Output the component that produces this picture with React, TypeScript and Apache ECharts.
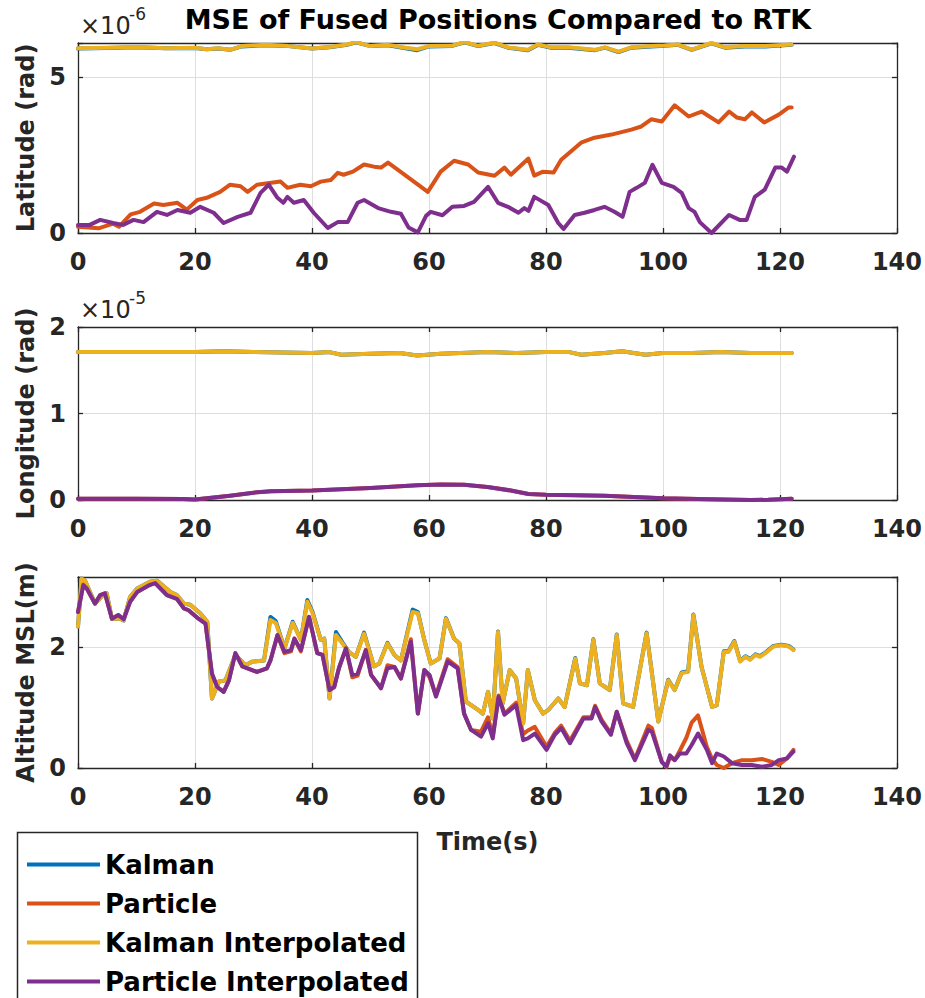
import React, { useEffect, useRef } from "react";
import * as echarts from "echarts";

const TITLE = "MSE of Fused Positions Compared to RTK";
const SERIES_NAMES = ["Kalman", "Particle", "Kalman Interpolated", "Particle Interpolated"];
const SERIES_COLORS = ["#0072BD", "#D95319", "#EDB120", "#7E2F8E"];
const Y_LABELS = ["Latitude (rad)", "Longitude (rad)", "Altitude MSL(m)"];
const X_LABEL = "Time(s)";
const EXPONENTS = ["-6", "-5", ""];
const X_TICKS = [0, 20, 40, 60, 80, 100, 120, 140];
const Y_MAX = [6.1, 2, 3.16];
const Y_INTERVAL = [5, 1, 2];

// ---- Latitude (x1e-6 rad) ----
const latKalmanInterp: number[][] = [
  [0, 5.93], [5, 5.95], [10, 5.97], [15, 5.93], [20, 5.95], [22, 5.9], [24, 5.93], [26, 5.88], [28, 6.0],
  [32, 6.04], [36, 6.0], [40, 5.92], [43, 5.97], [46, 6.05], [47.5, 6.13], [50, 6.0], [53, 6.04], [56, 5.95],
  [58, 5.9], [60, 6.0], [63.8, 6.01], [66.1, 6.13], [68.4, 6.01], [71.2, 6.11], [73.5, 5.96], [76.9, 5.88],
  [78.6, 6.05], [80.9, 5.96], [83.8, 5.96], [88.4, 5.88], [90.1, 5.96], [92.4, 5.82], [94.6, 5.96], [98, 6.0],
  [100.3, 6.02], [102.6, 6.05], [104.9, 5.89], [108.3, 6.1], [110.6, 5.96], [114, 6.0], [117.5, 6.0], [122, 6.05],
];
const latKalman: number[][] = [
  [0, 5.92], [5, 5.94], [10, 5.96], [15, 5.93], [20, 5.94], [22, 5.9], [24, 5.92], [26, 5.88], [28, 5.99],
  [32, 6.03], [36, 6.0], [40, 5.92], [43, 5.96], [46, 6.04], [47.5, 6.12], [50, 6.0], [53, 6.03], [56, 5.93],
  [58, 5.87], [60, 5.99], [63.8, 6.0], [66.1, 6.12], [68.4, 6.0], [71.2, 6.1], [73.5, 5.95], [76.9, 5.87],
  [78.6, 6.04], [80.9, 5.95], [83.8, 5.95], [88.4, 5.87], [90.1, 5.95], [92.4, 5.81], [94.6, 5.95], [98, 5.99],
  [100.3, 6.01], [102.6, 6.04], [104.9, 5.88], [108.3, 6.09], [110.6, 5.95], [114, 5.99], [117.5, 5.99], [122, 6.04],
];
const latParticle: number[][] = [
  [0, 0.2], [3.5, 0.15], [6, 0.3], [7, 0.2], [9, 0.6], [10.6, 0.68], [13, 0.95], [14.6, 0.9], [17, 0.97],
  [18.6, 0.75], [20.4, 1.06], [22, 1.13], [24.3, 1.32], [26, 1.55], [27.8, 1.5], [29, 1.32], [30.6, 1.55],
  [32.4, 1.6], [34.6, 1.65], [35.8, 1.45], [38, 1.55], [39.8, 1.5], [41.5, 1.65], [43.2, 1.7], [44.4, 1.93],
  [45.4, 1.87], [47, 1.97], [48.9, 2.2], [50.6, 2.13], [51.8, 2.1], [53, 2.26], [54.7, 2.03], [59.8, 1.32],
  [62, 1.97], [64.3, 2.32], [66.7, 2.2], [68.4, 1.94], [71.2, 1.84], [72.9, 2.1], [74, 1.87], [77, 2.39],
  [78, 1.84], [79.5, 1.97], [81.3, 1.94], [82.6, 2.35], [86, 2.9], [88.3, 3.06], [91.2, 3.16], [94.6, 3.32],
  [96.3, 3.42], [98, 3.65], [99.8, 3.58], [102, 4.1], [104.4, 3.74], [106.6, 3.9], [109.5, 3.55], [111.3, 3.9],
  [112.6, 3.71], [114, 3.65], [115.2, 3.87], [117.3, 3.55], [119.8, 3.8], [121.5, 4.03], [122, 4.03],
];
const latParticleInterp: number[][] = [
  [0, 0.26], [2, 0.26], [3.8, 0.42], [6, 0.32], [7.7, 0.26], [9.5, 0.42], [11.2, 0.35], [13.5, 0.68],
  [15.2, 0.58], [17, 0.74], [19.2, 0.65], [20.9, 0.84], [23.2, 0.65], [24.9, 0.32], [27.3, 0.52], [29.5, 0.65],
  [31.2, 1.29], [32.6, 1.55], [34.1, 1.13], [35.1, 0.97], [35.8, 1.16], [36.9, 0.97], [38.6, 1.06], [40.3, 0.65],
  [42.7, 0.16], [44.4, 0.35], [46.1, 0.35], [47.8, 0.97], [48.9, 1.06], [51.3, 0.8], [53.5, 0.68], [55.2, 0.62],
  [56.5, 0.18], [58.1, 0.02], [59.5, 0.55], [60.3, 0.68], [62.3, 0.57], [64, 0.84], [66, 0.87], [67.7, 1.0],
  [70.1, 1.48], [71.8, 0.97], [73.5, 0.84], [75.3, 0.65], [76.3, 0.8], [77, 0.71], [78, 1.16], [80.4, 0.9],
  [82.1, 0.32], [83, 0.13], [84.9, 0.58], [86.6, 0.65], [88.3, 0.74], [90, 0.84], [91.7, 0.68], [93.1, 0.52],
  [94.3, 1.32], [95.5, 1.45], [96.9, 1.61], [98.2, 2.19], [99.8, 1.61], [101.8, 1.48], [103.2, 1.29],
  [104.4, 0.8], [105.4, 0.68], [106.3, 0.35], [108.3, 0.0], [111.3, 0.58], [113.1, 0.42], [114.3, 0.42],
  [115.7, 1.16], [117.4, 1.39], [119.2, 2.1], [120.3, 2.1], [121.2, 1.97], [122.4, 2.45],
];

// ---- Longitude (x1e-5 rad) ----
const lonKalmanInterp: number[][] = [
  [0, 1.71], [10, 1.71], [20, 1.71], [25, 1.72], [30, 1.71], [40, 1.7], [43, 1.71], [45, 1.68], [50, 1.69],
  [55, 1.7], [58, 1.67], [62, 1.69], [70, 1.71], [75, 1.7], [80, 1.71], [84, 1.71], [86, 1.68], [90, 1.7],
  [93, 1.72], [97, 1.68], [100, 1.7], [105, 1.7], [110, 1.71], [115, 1.7], [122, 1.7],
];
const lonKalman: number[][] = [
  [0, 1.71], [10, 1.71], [20, 1.71], [25, 1.72], [30, 1.71], [40, 1.7], [43, 1.71], [45, 1.68], [50, 1.69],
  [55, 1.7], [58, 1.67], [62, 1.69], [70, 1.71], [75, 1.7], [80, 1.71], [84, 1.71], [86, 1.68], [90, 1.7],
  [93, 1.72], [97, 1.68], [100, 1.7], [105, 1.7], [110, 1.71], [115, 1.7], [122, 1.7],
];
const lonParticleInterp: number[][] = [
  [0, 0.015], [10, 0.015], [18, 0.012], [20, 0.005], [22, 0.02], [26, 0.05], [30, 0.085], [33, 0.1],
  [40, 0.11], [50, 0.14], [58, 0.17], [62, 0.18], [66, 0.175], [70, 0.15], [74, 0.11], [77, 0.07], [80, 0.06],
  [90, 0.05], [100, 0.02], [108, 0.01], [115, 0.0], [118, 0.002], [122, 0.015],
];
const lonParticle: number[][] = [
  [0, 0.015], [10, 0.015], [18, 0.012], [20, 0.005], [22, 0.02], [26, 0.05], [30, 0.085], [33, 0.1],
  [40, 0.11], [50, 0.14], [58, 0.17], [62, 0.18], [66, 0.175], [70, 0.15], [74, 0.11], [77, 0.07], [80, 0.06],
  [90, 0.05], [100, 0.02], [108, 0.01], [115, 0.0], [118, 0.002], [122, 0.015],
];

// ---- Altitude MSL (m) ----
const altKalmanInterp: number[][] = [
  [0, 2.34], [0.6, 3.13], [1.2, 3.1], [2.9, 2.72], [4.3, 2.86], [4.9, 2.89], [5.8, 2.47], [7.2, 2.47],
  [7.8, 2.44], [8.9, 2.83], [10.1, 2.97], [12.3, 3.08], [13.5, 3.1], [15.8, 2.91], [16.9, 2.86], [18.1, 2.72],
  [19.2, 2.7], [20.9, 2.56], [22.1, 2.42], [22.9, 1.15], [24.1, 1.43], [25.2, 1.45], [26.9, 1.87], [28.6, 1.7],
  [29.8, 1.76], [31.8, 1.78], [32.9, 2.45], [33.8, 2.4], [35.3, 1.98], [36.7, 2.4], [38.1, 2.12], [39.2, 2.75],
  [40.1, 2.56], [41.5, 2.12], [42.1, 2.14], [43, 1.15], [44.1, 2.2], [45.2, 2.06], [46.3, 1.92], [47.5, 1.84],
  [48.9, 2.22], [50.6, 1.68], [51.5, 1.73], [52.9, 2.06], [54.1, 1.87], [55.2, 1.78], [57.2, 2.58], [58.1, 2.56],
  [59.2, 2.12], [60.3, 1.73], [61.8, 1.81], [62.9, 2.47], [64.3, 2.14], [65.2, 2.06], [66.3, 1.1], [68.4, 0.96],
  [69.2, 0.9], [70.1, 1.26], [70.9, 0.82], [71.8, 2.25], [72.6, 1.07], [73.8, 1.62], [74.9, 1.48], [76.1, 0.74],
  [76.9, 1.62], [78.1, 1.12], [79.5, 0.9], [80.4, 0.96], [82.1, 1.15], [83.2, 1.01], [85, 1.81], [85.8, 1.4],
  [87, 1.37], [88.1, 2.12], [89.2, 1.4], [90.9, 1.29], [92.1, 2.2], [93.2, 1.07], [94.9, 1.01], [97.2, 2.23],
  [99.2, 0.77], [100.9, 1.45], [102, 1.29], [103.2, 1.57], [104.3, 1.59], [105.2, 2.53], [106.6, 1.67],
  [108.4, 1.01], [109.2, 1.04], [110.4, 1.92], [111.2, 1.92], [112.2, 2.09], [113.2, 1.76], [114.1, 1.84],
  [114.9, 1.79], [115.8, 1.87], [116.6, 1.84], [117.5, 1.9], [118.9, 2.01], [120.3, 2.03], [121.5, 2.01],
  [122.3, 1.95],
];
const altKalman: number[][] = [
  [0, 2.34], [0.6, 3.13], [1.2, 3.1], [2.9, 2.72], [4.3, 2.86], [4.9, 2.89], [5.8, 2.47], [7.2, 2.47],
  [7.8, 2.44], [8.9, 2.83], [10.1, 2.97], [12.3, 3.08], [13.5, 3.1], [15.8, 2.91], [16.9, 2.86], [18.1, 2.72],
  [19.2, 2.7], [20.9, 2.56], [22.1, 2.42], [22.9, 1.15], [24.1, 1.43], [25.2, 1.45], [26.9, 1.87], [28.6, 1.7],
  [29.8, 1.76], [31.8, 1.78], [32.9, 2.5], [33.8, 2.43], [35.3, 1.98], [36.7, 2.42], [38.1, 2.12], [39.2, 2.78],
  [40.1, 2.58], [41.5, 2.12], [42.1, 2.14], [43, 1.15], [44.1, 2.25], [45.2, 2.08], [46.3, 1.92], [47.5, 1.84],
  [48.9, 2.24], [50.6, 1.68], [51.5, 1.73], [52.9, 2.07], [54.1, 1.87], [55.2, 1.78], [57.2, 2.62], [58.1, 2.58],
  [59.2, 2.12], [60.3, 1.73], [61.8, 1.81], [62.9, 2.48], [64.3, 2.14], [65.2, 2.06], [66.3, 1.1], [68.4, 0.96],
  [69.2, 0.9], [70.1, 1.26], [70.9, 0.82], [71.8, 2.26], [72.6, 1.07], [73.8, 1.62], [74.9, 1.48], [76.1, 0.74],
  [76.9, 1.62], [78.1, 1.12], [79.5, 0.9], [80.4, 0.96], [82.1, 1.15], [83.2, 1.01], [85, 1.82], [85.8, 1.4],
  [87, 1.37], [88.1, 2.13], [89.2, 1.4], [90.9, 1.29], [92.1, 2.21], [93.2, 1.07], [94.9, 1.01], [97.2, 2.24],
  [99.2, 0.77], [100.9, 1.46], [102, 1.29], [103.2, 1.58], [104.3, 1.6], [105.2, 2.54], [106.6, 1.67],
  [108.4, 1.01], [109.2, 1.04], [110.4, 1.93], [111.2, 1.93], [112.2, 2.1], [113.2, 1.77], [114.1, 1.85],
  [114.9, 1.8], [115.8, 1.88], [116.6, 1.85], [117.5, 1.91], [118.9, 2.02], [120.3, 2.04], [121.5, 2.02],
  [122.3, 1.96],
];
const altParticleInterp: number[][] = [
  [0, 2.58], [0.9, 3.03], [1.5, 2.97], [2.9, 2.72], [3.8, 2.86], [4.6, 2.89], [5.8, 2.47], [6.9, 2.53],
  [7.8, 2.46], [8.9, 2.75], [10.1, 2.91], [12.3, 3.03], [13.2, 3.06], [15.2, 2.86], [16.9, 2.8], [18.1, 2.64],
  [18.9, 2.61], [20.6, 2.47], [21.8, 2.39], [22.9, 1.56], [23.8, 1.34], [24.9, 1.26], [25.8, 1.45], [26.9, 1.9],
  [28.1, 1.68], [30.6, 1.59], [32.3, 1.65], [32.9, 1.78], [34.1, 2.2], [35.3, 1.92], [36.4, 1.95], [37, 2.14],
  [38.1, 1.95], [39.5, 2.5], [40.9, 1.9], [41.8, 1.87], [43, 1.29], [43.8, 1.34], [44.6, 1.65], [45.8, 1.98],
  [46.9, 1.54], [47.8, 1.56], [49.2, 1.95], [50.1, 1.54], [51.8, 1.32], [52.9, 1.65], [54.1, 1.67], [55.2, 1.48],
  [56.9, 2.09], [58.1, 0.9], [59.2, 1.62], [60.1, 1.54], [61.2, 1.18], [63.2, 1.76], [64.9, 1.65], [66, 0.9],
  [67.2, 0.63], [68.9, 0.52], [70.1, 0.74], [70.9, 0.49], [71.9, 1.18], [72.9, 0.88], [74.9, 1.04], [76.1, 0.46],
  [76.9, 0.49], [78.1, 0.57], [80.1, 0.3], [81.5, 0.55], [82.6, 0.66], [84.1, 0.41], [86.4, 0.82], [87.8, 0.82],
  [88.4, 1.01], [89.5, 0.77], [91.1, 0.55], [92.1, 0.93], [93.8, 0.41], [95.2, 0.13], [97.5, 0.63], [98.1, 0.6],
  [99.8, 0.1], [100.6, 0.03], [101.2, 0.21], [102, 0.13], [102.9, 0.24], [104, 0.24], [104.9, 0.38], [106, 0.57],
  [107.5, 0.3], [108.4, 0.08], [109.2, 0.24], [110.4, 0.19], [111.8, 0.08], [113.5, 0.05], [115.2, 0.05],
  [116.9, 0.02], [118.6, 0.05], [119.8, 0.13], [121.2, 0.16], [122.3, 0.27],
];
const altParticle: number[][] = [
  [0, 2.58], [0.9, 3.03], [1.5, 2.97], [2.9, 2.72], [3.8, 2.86], [4.6, 2.89], [5.8, 2.47], [6.9, 2.53],
  [7.8, 2.46], [8.9, 2.75], [10.1, 2.91], [12.3, 3.03], [13.2, 3.06], [15.2, 2.86], [16.9, 2.8], [18.1, 2.64],
  [18.9, 2.61], [20.6, 2.47], [21.8, 2.39], [22.9, 1.56], [23.8, 1.34], [24.9, 1.26], [25.8, 1.45], [26.9, 1.9],
  [28.1, 1.68], [30.6, 1.59], [32.3, 1.65], [32.9, 1.78], [34.1, 2.2], [35.3, 1.9], [36.4, 1.93], [37, 2.14],
  [38.1, 1.93], [39.5, 2.5], [40.9, 1.9], [41.8, 1.87], [43, 1.29], [43.8, 1.34], [44.6, 1.65], [45.8, 1.98],
  [46.9, 1.5], [47.8, 1.53], [49.2, 1.95], [50.1, 1.54], [51.8, 1.32], [52.9, 1.7], [54.1, 1.67], [55.2, 1.48],
  [56.9, 2.13], [58.1, 0.9], [59.2, 1.62], [60.1, 1.5], [61.2, 1.2], [63.2, 1.8], [64.9, 1.67], [66, 0.9],
  [67.2, 0.63], [68.9, 0.6], [70.1, 0.84], [70.9, 0.52], [71.9, 1.2], [72.9, 0.9], [74.9, 1.08], [76.1, 0.56],
  [76.9, 0.62], [78.1, 0.68], [80.1, 0.35], [81.5, 0.58], [82.6, 0.7], [84.1, 0.45], [86.4, 0.84], [87.8, 0.84],
  [88.4, 1.03], [89.5, 0.8], [91.1, 0.57], [92.1, 0.93], [93.8, 0.45], [95.2, 0.15], [97.5, 0.7], [98.1, 0.66],
  [99.8, 0.1], [100.6, 0.02], [101.2, 0.18], [102, 0.13], [102.9, 0.29], [104, 0.5], [104.9, 0.75], [106, 0.87],
  [107.5, 0.35], [108.4, 0.15], [109.2, 0.05], [110.4, 0.0], [111.8, 0.08], [113.5, 0.13], [115.2, 0.13],
  [116.9, 0.15], [118.6, 0.1], [119.8, 0.05], [121.2, 0.16], [122.3, 0.3],
];

const PANEL_DATA = [
  [latKalman, latParticle, latKalmanInterp, latParticleInterp],
  [lonKalman, lonParticle, lonKalmanInterp, lonParticleInterp],
  [altKalman, altParticle, altKalmanInterp, altParticleInterp],
];

const FONT = "'DejaVu Sans', 'Liberation Sans', sans-serif";
const AXIS_COLOR = "#262626";
const GRID_COLOR = "#dedede";
const LEFT = 78;
const WIDTH = 819;
const TOPS = [43, 327, 577];
const HEIGHTS = [190, 173, 191];

function buildOption(): any {
  const axisLine = { show: true, onZero: false, lineStyle: { color: AXIS_COLOR, width: 1.3 } };
  const axisTick = { show: true, inside: true, length: 5, lineStyle: { color: AXIS_COLOR, width: 1.3 } };
  const labelStyle = { fontFamily: FONT, fontWeight: "bold", fontSize: 24, color: AXIS_COLOR };

  const grid: any[] = [];
  const xAxis: any[] = [];
  const yAxis: any[] = [];
  const series: any[] = [];

  for (let i = 0; i < 3; i++) {
    grid.push({ left: LEFT, top: TOPS[i], width: WIDTH, height: HEIGHTS[i], containLabel: false });
    const xBase = {
      type: "value",
      gridIndex: i,
      min: X_TICKS[0],
      max: X_TICKS[X_TICKS.length - 1],
      interval: X_TICKS[1] - X_TICKS[0],
      axisLine,
      axisTick,
    };
    xAxis.push({
      ...xBase,
      position: "bottom",
      axisLabel: { ...labelStyle, margin: 17, showMinLabel: true, showMaxLabel: true },
      splitLine: { show: true, lineStyle: { color: GRID_COLOR, width: 1 } },
      name: i === 2 ? X_LABEL : "",
      nameLocation: "middle",
      nameGap: 62,
      nameTextStyle: { fontFamily: FONT, fontWeight: "bold", fontSize: 24, color: AXIS_COLOR },
    });
    xAxis.push({ ...xBase, position: "top", axisLabel: { show: false }, splitLine: { show: false } });

    const yBase = {
      type: "value",
      gridIndex: i,
      min: 0,
      max: Y_MAX[i],
      interval: Y_INTERVAL[i],
      axisLine,
      axisTick,
    };
    const iv = Y_INTERVAL[i];
    yAxis.push({
      ...yBase,
      position: "left",
      axisLabel: {
        ...labelStyle,
        margin: 12,
        formatter: (v: number) => (Math.abs(v / iv - Math.round(v / iv)) < 1e-6 ? String(v) : ""),
      },
      splitLine: { show: true, lineStyle: { color: GRID_COLOR, width: 1 } },
      name: Y_LABELS[i],
      nameLocation: "middle",
      nameRotate: 90,
      nameGap: 36,
      nameTextStyle: { fontFamily: FONT, fontWeight: "bold", fontSize: 24, color: AXIS_COLOR },
    });
    yAxis.push({ ...yBase, position: "right", axisLabel: { show: false }, splitLine: { show: false } });

    PANEL_DATA[i].forEach((data, k) => {
      series.push({
        type: "line",
        name: SERIES_NAMES[k],
        xAxisIndex: 2 * i,
        yAxisIndex: 2 * i,
        data,
        symbol: "none",
        showSymbol: false,
        clip: true,
        z: 2 + k,
        lineStyle: { color: SERIES_COLORS[k], width: 4, join: "round", cap: "round" },
        itemStyle: { color: SERIES_COLORS[k] },
      });
    });
  }

  const graphic: any[] = [
    {
      type: "rect",
      z: 1,
      shape: { x: 17.5, y: 832.5, width: 400, height: 200 },
      style: { fill: "#ffffff", stroke: AXIS_COLOR, lineWidth: 1.5 },
    },
    {
      type: "text",
      x: 498,
      y: 19,
      style: {
        text: TITLE,
        fill: "#000000",
        font: `bold 27px ${FONT}`,
        align: "center",
        verticalAlign: "middle",
      },
    },
  ];
  for (let i = 0; i < 2; i++) {
    const top = TOPS[i];
    graphic.push({
      type: "text",
      x: 80,
      y: top - 17,
      style: { text: "×10", fill: AXIS_COLOR, font: `24px ${FONT}`, align: "left", verticalAlign: "middle" },
    });
    graphic.push({
      type: "text",
      x: 129,
      y: top - 29,
      style: { text: EXPONENTS[i], fill: AXIS_COLOR, font: `17px ${FONT}`, align: "left", verticalAlign: "middle" },
    });
  }

  return {
    animation: false,
    backgroundColor: "#ffffff",
    grid,
    xAxis,
    yAxis,
    series,
    legend: {
      data: SERIES_NAMES,
      orient: "vertical",
      left: 27,
      top: 850,
      padding: 0,
      itemWidth: 73,
      itemHeight: 4,
      itemGap: 10,
      icon: "rect",
      z: 10,
      selectedMode: false,
      textStyle: { fontFamily: FONT, fontWeight: "bold", fontSize: 26, color: "#000000", lineHeight: 29 },
    },
    graphic,
  };
}

export default function App() {
  const ref = useRef<HTMLDivElement>(null);
  useEffect(() => {
    if (!ref.current) return;
    const chart = echarts.init(ref.current, undefined, { renderer: "svg" });
    chart.setOption(buildOption());
    return () => chart.dispose();
  }, []);
  return (
    <div
      ref={ref}
      style={{ position: "fixed", left: 0, top: 0, width: 925, height: 998, background: "#ffffff" }}
    />
  );
}
